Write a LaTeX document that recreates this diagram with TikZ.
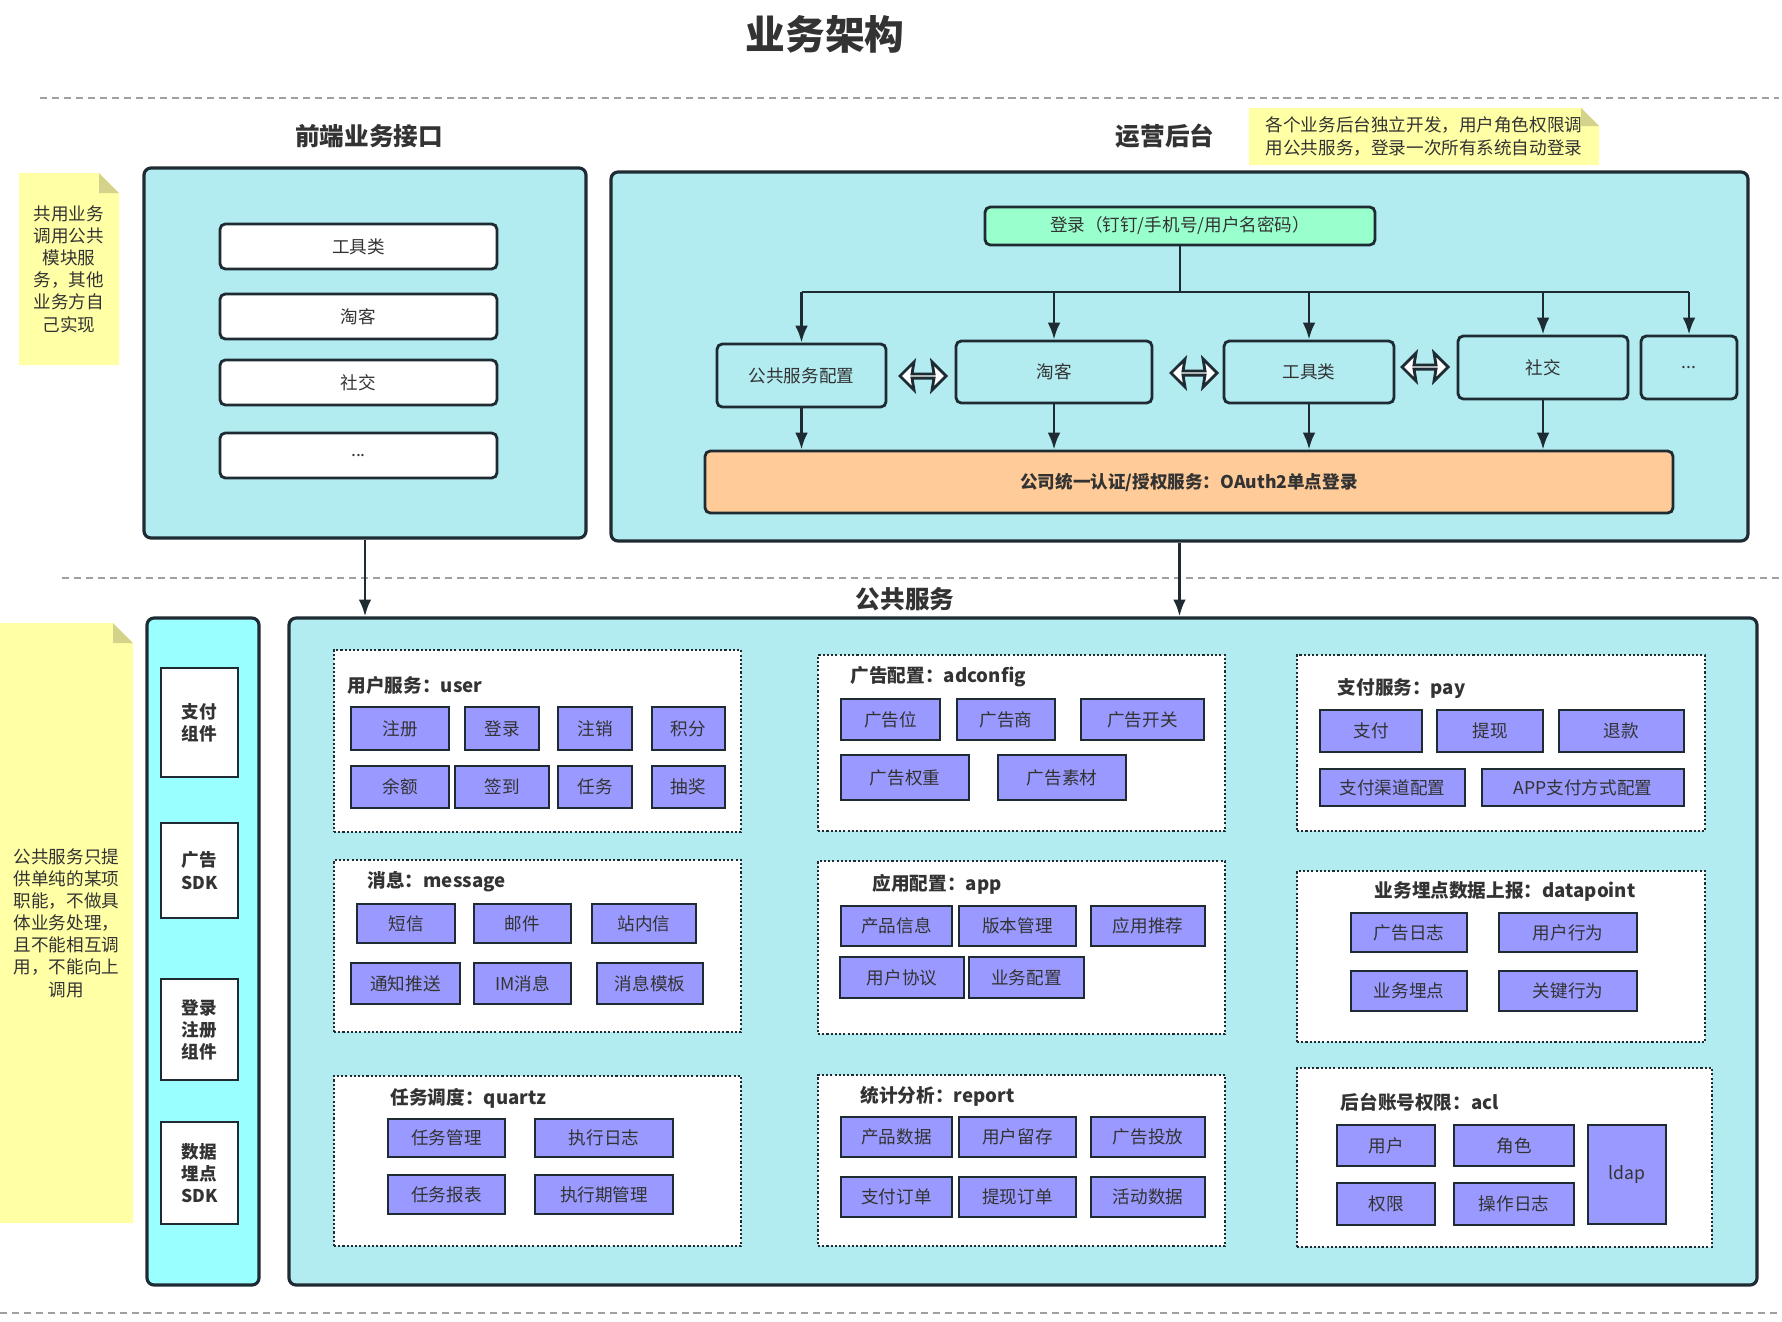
\documentclass[tikz,border=0pt]{standalone}
\usepackage{fontspec}
\setmainfont{Noto Sans CJK SC}
\usetikzlibrary{arrows.meta,shapes.arrows}

\definecolor{edge}{HTML}{1E2B33}
\definecolor{panelcyan}{HTML}{B2EBF0}
\definecolor{sdkcyan}{HTML}{99FFFF}
\definecolor{mint}{HTML}{99FFCC}
\definecolor{peach}{HTML}{FFCC99}
\definecolor{svcpurple}{HTML}{9999FF}
\definecolor{noteyel}{HTML}{FFFFA6}
\definecolor{notefold}{HTML}{D3D38C}
\definecolor{txt}{HTML}{333333}
\definecolor{sepgray}{HTML}{A0A0A0}

\newcommand{\fs}{\fontsize{5}{6.3}\selectfont}
\newcommand{\boxat}[7]{\node[#1, minimum width={(#5-#3)*0.01cm}, minimum height={(#6-#4)*0.01cm}] (#2) at ({(#3+#5)/2},{(#4+#6)/2}) {#7};}
\newcommand{\stickynote}[6]{%
\fill[noteyel] (#2,#3) -- ({#4-#6},#3) -- (#4,{#3+#6}) -- (#4,#5) -- (#2,#5) -- cycle;
\fill[notefold] ({#4-#6},#3) -- ({#4-#6},{#3+#6}) -- (#4,{#3+#6}) -- cycle;
\coordinate (#1) at ({(#2+#4)/2},{(#3+#5)/2});}

\begin{document}
\begin{tikzpicture}[x=0.01cm,y=-0.01cm,
  every node/.style={inner sep=0pt, text=txt, font=\fs},
  sep/.style={draw=sepgray, line width=0.4pt, dash pattern=on 2pt off 1.4pt},
  panel/.style={draw=edge, line width=0.9pt, fill=panelcyan, rounded corners=2pt},
  wbox/.style={draw=edge, line width=0.8pt, fill=white, rounded corners=1.5pt},
  mbox/.style={draw=edge, line width=0.8pt, fill=panelcyan, rounded corners=1.5pt},
  sdkbox/.style={draw=edge, line width=0.8pt, fill=white, align=center, font=\fs\bfseries},
  grp/.style={draw=edge, line width=0.8pt, fill=white, dash pattern=on 0.6pt off 0.6pt},
  gtitle/.style={anchor=west, font=\fontsize{5.3}{6}\selectfont\bfseries},
  pbox/.style={draw=edge, line width=0.8pt, fill=svcpurple},
  head/.style={font=\fontsize{7}{8}\selectfont\bfseries},
  dbl/.style={double arrow, draw=edge, fill=white, line width=0.8pt,
    minimum height=0.46cm, minimum width=0.28cm, double arrow head extend=0.08cm,
    double arrow head indent=0.02cm},
  line/.style={draw=edge, line width=0.8pt},
  arr/.style={line, -{Latex[length=4.8pt,width=3.6pt]}},
  notetext/.style={align=center, font=\fontsize{5}{6.3}\selectfont}]
\useasboundingbox (0,0) rectangle (1782,1321);

\draw[sep] (40,98) -- (1779,98);
\draw[sep] (62,578) -- (1779,578);
\draw[sep] (0,1313) -- (1779,1313);

\node[font=\fontsize{11.3}{13}\selectfont\bfseries] (title) at (825,34) {业务架构};
\node[head] (hFront) at (369,136) {前端业务接口};
\node[head] (hOps) at (1165,136) {运营后台};
\node[head] (hPub) at (905,599) {公共服务};

\stickynote{n1}{19}{173}{119}{365}{20}
\node[notetext] (n1t) at (n1) {共用业务\\调用公共\\模块服\\务，其他\\业务方自\\己实现};
\stickynote{n2}{1249}{108}{1599}{165}{18}
\node[notetext, align=left] (n2t) at (n2) {各个业务后台独立开发，用户角色权限调\\用公共服务，登录一次所有系统自动登录};
\stickynote{n3}{0}{623}{133}{1223}{20}
\node[notetext] (n3t) at (n3) {公共服务只提\\供单纯的某项\\职能，不做具\\体业务处理，\\且不能相互调\\用，不能向上\\调用};

\boxat{panel}{front}{144}{168}{586}{538}{}
\boxat{wbox}{feTools}{220}{224}{497}{269}{工具类}
\boxat{wbox}{feTaoke}{220}{294}{497}{339}{淘客}
\boxat{wbox}{feSocial}{220}{360}{497}{405}{社交}
\boxat{wbox}{feEtc}{220}{433}{497}{478}{...}

\boxat{panel}{ops}{611}{172}{1748}{541}{}
\boxat{wbox,fill=mint}{login}{985}{207}{1375}{245}{登录（钉钉/手机号/用户名密码）}
\boxat{mbox}{pubcfg}{717}{344}{886}{407}{公共服务配置}
\boxat{mbox}{taoke}{956}{341}{1152}{403}{淘客}
\boxat{mbox}{tools}{1224}{341}{1394}{403}{工具类}
\boxat{mbox}{social}{1458}{336}{1628}{399}{社交}
\boxat{mbox}{etc}{1641}{336}{1737}{399}{...}
\boxat{wbox,fill=peach}{oauth}{705}{451}{1673}{513}{\bfseries 公司统一认证/授权服务：OAuth2单点登录}
\node[dbl] (da1) at (923,376) {};
\node[dbl] (da2) at (1194,373) {};
\node[dbl] (da3) at (1425,367) {};

\coordinate (br) at (1180,292);
\draw[line] (login) -- (br);
\draw[line] (pubcfg.north |- br) -- (etc.north |- br);
\foreach \m in {pubcfg,taoke,tools,social,etc}
  \draw[arr] (\m.north |- br) -- (\m.north);
\foreach \m in {pubcfg,taoke,tools,social}
  \draw[arr] (\m.south) -- (\m.south |- oauth.north);

\boxat{panel,fill=sdkcyan}{sdkcol}{147}{618}{259}{1285}{}
\boxat{panel}{pubsvc}{289}{618}{1757}{1285}{}
\draw[arr] (front.south) -- (front.south |- pubsvc.north);
\draw[arr] (ops.south) -- (ops.south |- pubsvc.north);

\boxat{sdkbox}{sdkPay}{161}{668}{238}{777}{支付\\组件}
\boxat{sdkbox}{sdkAd}{161}{823}{238}{918}{广告\\SDK}
\boxat{sdkbox}{sdkLogin}{161}{979}{238}{1080}{登录\\注册\\组件}
\boxat{sdkbox}{sdkData}{161}{1122}{238}{1224}{数据\\埋点\\SDK}

\boxat{grp}{gUser}{334}{650}{741}{832}{}
\node[gtitle] (tUser) at (347,685) {用户服务：user};
\boxat{pbox}{uReg}{351}{707}{449}{750}{注册}
\boxat{pbox}{uLogin}{465}{707}{539}{750}{登录}
\boxat{pbox}{uLogout}{558}{707}{632}{750}{注销}
\boxat{pbox}{uPoint}{652}{707}{725}{750}{积分}
\boxat{pbox}{uBal}{351}{766}{449}{808}{余额}
\boxat{pbox}{uSign}{455}{766}{549}{808}{签到}
\boxat{pbox}{uTask}{558}{766}{632}{808}{任务}
\boxat{pbox}{uLottery}{652}{766}{725}{808}{抽奖}

\boxat{grp}{gMsg}{334}{860}{741}{1032}{}
\node[gtitle] (tMsg) at (367,882) {消息：message};
\boxat{pbox}{mSms}{357}{904}{455}{943}{短信}
\boxat{pbox}{mMail}{474}{904}{571}{943}{邮件}
\boxat{pbox}{mInbox}{592}{904}{696}{943}{站内信}
\boxat{pbox}{mPush}{351}{963}{460}{1004}{通知推送}
\boxat{pbox}{mIm}{474}{963}{571}{1004}{IM消息}
\boxat{pbox}{mTpl}{597}{963}{703}{1004}{消息模板}

\boxat{grp}{gQuartz}{334}{1076}{741}{1246}{}
\node[gtitle] (tQuartz) at (390,1098) {任务调度：quartz};
\boxat{pbox}{qMgr}{388}{1119}{505}{1157}{任务管理}
\boxat{pbox}{qLog}{535}{1119}{673}{1157}{执行日志}
\boxat{pbox}{qRep}{388}{1175}{505}{1214}{任务报表}
\boxat{pbox}{qPer}{535}{1175}{673}{1214}{执行期管理}

\boxat{grp}{gAd}{818}{655}{1225}{831}{}
\node[gtitle] (tAd) at (850,677) {广告配置：adconfig};
\boxat{pbox}{aPos}{841}{699}{940}{740}{广告位}
\boxat{pbox}{aVendor}{957}{699}{1055}{740}{广告商}
\boxat{pbox}{aSwitch}{1081}{699}{1204}{740}{广告开关}
\boxat{pbox}{aWeight}{841}{755}{969}{800}{广告权重}
\boxat{pbox}{aMat}{998}{755}{1126}{800}{广告素材}

\boxat{grp}{gApp}{818}{861}{1225}{1034}{}
\node[gtitle] (tApp) at (872,884) {应用配置：app};
\boxat{pbox}{pInfo}{841}{906}{952}{946}{产品信息}
\boxat{pbox}{pVer}{959}{906}{1076}{946}{版本管理}
\boxat{pbox}{pRec}{1091}{906}{1205}{946}{应用推荐}
\boxat{pbox}{pAgree}{840}{957}{964}{998}{用户协议}
\boxat{pbox}{pBiz}{969}{957}{1084}{998}{业务配置}

\boxat{grp}{gRep}{818}{1075}{1225}{1246}{}
\node[gtitle] (tRep) at (860,1096) {统计分析：report};
\boxat{pbox}{rProd}{841}{1117}{952}{1157}{产品数据}
\boxat{pbox}{rRet}{959}{1117}{1076}{1157}{用户留存}
\boxat{pbox}{rAd}{1091}{1117}{1205}{1157}{广告投放}
\boxat{pbox}{rPay}{841}{1177}{952}{1217}{支付订单}
\boxat{pbox}{rWd}{959}{1177}{1076}{1217}{提现订单}
\boxat{pbox}{rAct}{1091}{1177}{1205}{1217}{活动数据}

\boxat{grp}{gPay}{1297}{655}{1705}{831}{}
\node[gtitle] (tPay) at (1337,689) {支付服务：pay};
\boxat{pbox}{yPay}{1320}{710}{1422}{752}{支付}
\boxat{pbox}{yWd}{1437}{710}{1543}{752}{提现}
\boxat{pbox}{yRef}{1559}{710}{1684}{752}{退款}
\boxat{pbox}{yChan}{1320}{769}{1465}{806}{支付渠道配置}
\boxat{pbox}{yApp}{1482}{769}{1684}{806}{APP支付方式配置}

\boxat{grp}{gDp}{1297}{871}{1705}{1042}{}
\node[gtitle] (tDp) at (1374,891) {业务埋点数据上报：datapoint};
\boxat{pbox}{dAd}{1351}{913}{1467}{952}{广告日志}
\boxat{pbox}{dUser}{1499}{913}{1637}{952}{用户行为}
\boxat{pbox}{dBiz}{1351}{971}{1467}{1011}{业务埋点}
\boxat{pbox}{dKey}{1499}{971}{1637}{1011}{关键行为}

\boxat{grp}{gAcl}{1297}{1068}{1712}{1247}{}
\node[gtitle] (tAcl) at (1340,1102) {后台账号权限：acl};
\boxat{pbox}{cUser}{1337}{1125}{1435}{1166}{用户}
\boxat{pbox}{cRole}{1454}{1125}{1574}{1166}{角色}
\boxat{pbox}{cPerm}{1337}{1183}{1435}{1225}{权限}
\boxat{pbox}{cLog}{1454}{1183}{1574}{1225}{操作日志}
\boxat{pbox}{cLdap}{1588}{1125}{1666}{1224}{ldap}
\end{tikzpicture}
\end{document}
